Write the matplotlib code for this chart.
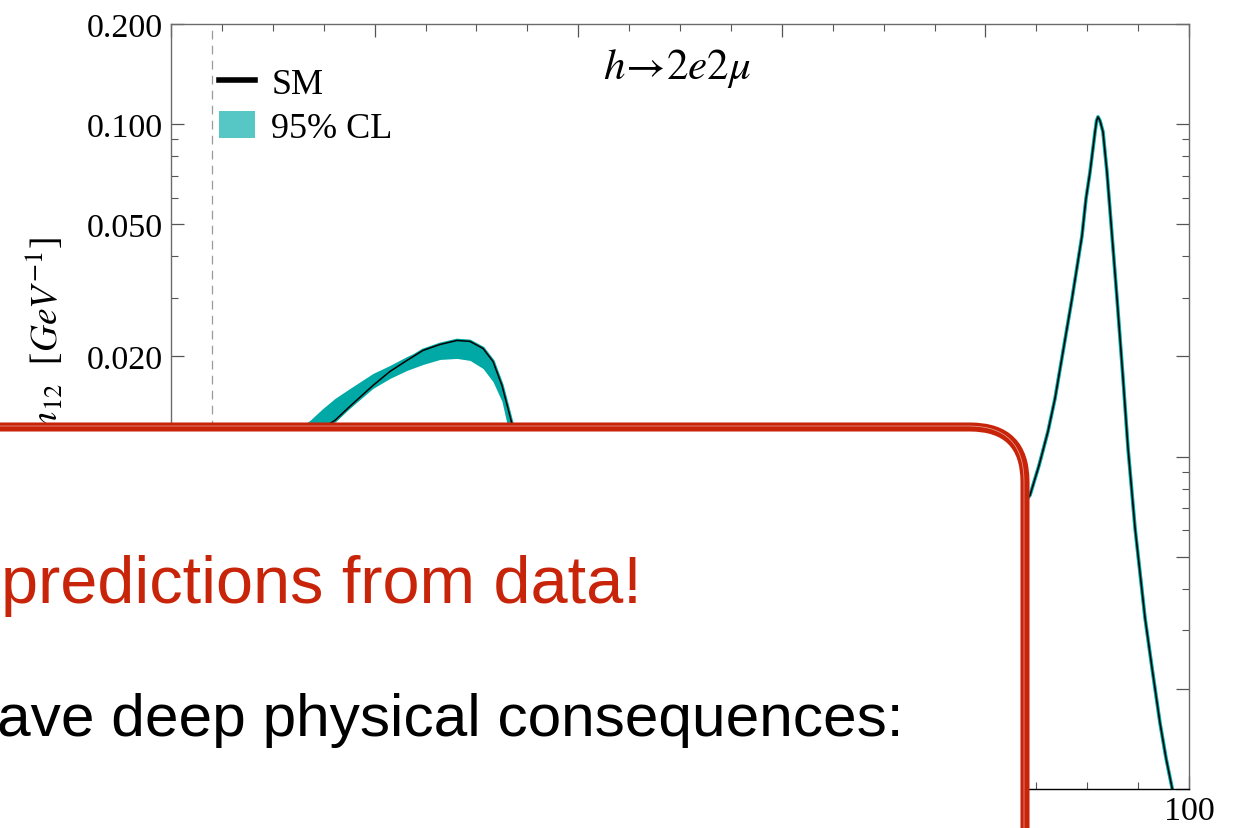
import numpy as np
import matplotlib
matplotlib.use("Agg")
import matplotlib.pyplot as plt
from matplotlib.patches import FancyBboxPatch, Patch
from matplotlib.lines import Line2D
from matplotlib.ticker import NullFormatter

plt.rcParams["font.family"] = "serif"
plt.rcParams["font.serif"] = ["Liberation Serif", "DejaVu Serif"]
plt.rcParams["mathtext.fontset"] = "stix"

# ── data ────────────────────────────────────────────────────────────────────
# SM differential width vs m12 [GeV]  (values below ~0.0124 sit under the box)
m12_sm = [4.0, 8.0, 12.0, 13.65, 14.93, 16.11, 17.58, 19.84, 21.51, 23.18, 24.75,
          26.42, 28.09, 29.37, 30.65, 31.63, 32.51, 33.10, 33.40, 34.0, 40.0,
          50.0, 60.0, 70.0, 80.0, 84.38, 85.27, 86.15, 86.84, 88.51, 89.49,
          89.88, 90.28, 90.77, 90.92, 91.06, 91.26, 91.55, 91.94, 92.44, 92.93,
          93.52, 94.01, 94.70, 95.68, 96.37, 97.15, 97.74, 98.33, 100.0]
sm = [0.0020, 0.0062, 0.0105, 0.0115, 0.0122, 0.01285, 0.01416, 0.01636, 0.01803,
      0.01946, 0.02085, 0.02173, 0.02234, 0.02220, 0.02114, 0.01932, 0.01636,
      0.01396, 0.01285, 0.0110, 0.0062, 0.0038, 0.0032, 0.0036, 0.0052, 0.00765,
      0.00941, 0.01191, 0.01496, 0.02986, 0.04618, 0.05962, 0.07188, 0.09476,
      0.1023, 0.1051, 0.1023, 0.09476, 0.07188, 0.04618, 0.02986, 0.01718,
      0.01059, 0.00609, 0.00327, 0.00231, 0.00158, 0.00124, 0.00101, 0.00062]

# 95% CL band on the low-mass lobe
m12_band = [12.0, 13.65, 14.93, 16.11, 17.58, 19.84, 21.51, 23.18, 24.75, 26.42,
            28.09, 29.37, 30.65, 31.63, 32.51, 33.10, 33.40, 34.0]
band_hi = [0.0118, 0.01285, 0.01396, 0.01496, 0.01603, 0.01778, 0.01880, 0.0200,
           0.02099, 0.02188, 0.02250, 0.02234, 0.02114, 0.01932, 0.01636, 0.01396,
           0.01285, 0.0112]
band_lo = [0.0100, 0.0113, 0.0120, 0.0127, 0.0140, 0.01603, 0.01718, 0.01816,
           0.01892, 0.01959, 0.01973, 0.01946, 0.01840, 0.0168, 0.01466, 0.0122,
           0.0115, 0.0100]

m12_cut = 4.0
y_major = [0.001, 0.002, 0.005, 0.01, 0.02, 0.05, 0.1, 0.2]
y_major_labels = ["0.001", "0.002", "0.005", "0.010", "0.020", "0.050", "0.100", "0.200"]
y_minor = [0.003, 0.004, 0.006, 0.007, 0.008, 0.009, 0.03, 0.04, 0.06, 0.07, 0.08, 0.09]
x_major = [0, 20, 40, 60, 80, 100]
x_minor = list(range(0, 101, 5))

TEAL = "#00a9a5"
TEAL_LIGHT = "#56c7c4"
RED = "#c8240a"

W, H = 1235, 829
fig = plt.figure(figsize=(W / 100, H / 100), dpi=100)
ax = fig.add_axes([171 / W, 39 / H, 1018 / W, 765 / H])

# ── plot ─────────────────────────────────────────────────────────────────────
ax.axvline(m12_cut, color="#9a9a9a", lw=0.9, dashes=(7, 5))
ax.fill_between(m12_band, band_lo, band_hi, color=TEAL, lw=0, zorder=2)
ax.plot(m12_sm, sm, color=TEAL, lw=2.6, zorder=2.5, solid_joinstyle="round")
ax.plot(m12_sm, sm, color="black", lw=1.1, zorder=3, solid_joinstyle="round")

ax.set_yscale("log")
ax.set_xlim(0, 100)
ax.set_ylim(0.001, 0.2)
ax.set_yticks(y_major)
ax.set_yticklabels(y_major_labels)
ax.set_yticks(y_minor, minor=True)
ax.yaxis.set_minor_formatter(NullFormatter())
ax.set_xticks(x_major)
ax.set_xticks(x_minor, minor=True)

ax.tick_params(which="both", direction="in", top=True, right=True, colors="#555555",
               labelcolor="black")
ax.tick_params(which="major", length=9.5, width=0.9, labelsize=24.5)
ax.tick_params(axis="y", which="major", pad=5.5)
ax.tick_params(axis="x", which="major", pad=4.5)
ax.tick_params(which="minor", length=5, width=0.8)
for s in ["left", "right", "top"]:
    ax.spines[s].set_color("#6b6b6b")
    ax.spines[s].set_linewidth(1.0)
ax.spines["bottom"].set_color("black")
ax.spines["bottom"].set_linewidth(1.0)

fig.text(58 / W, 1 - 237 / H, r"$d\Gamma/dm_{12}$  [$GeV^{-1}$]", rotation=90,
         rotation_mode="anchor", ha="right", va="baseline", fontsize=27)
fig.text(677 / W, 1 - 79 / H, r"$h\!\rightarrow\!2e2\mu$", ha="center",
         va="baseline", fontsize=31)

handles = [Line2D([], [], color="black", lw=4), Patch(facecolor=TEAL_LIGHT, lw=0)]
ax.legend(handles, ["SM", "95% CL"], loc="upper left", bbox_to_anchor=(0.0472, 0.944),
          frameon=False, fontsize=26, handlelength=1.0, handleheight=0.8,
          handletextpad=0.45, labelspacing=0.26, borderpad=0, borderaxespad=0)

# ── slide overlay: rounded red box with text ─────────────────────────────────
ov = fig.add_axes([0, 0, 1, 1], zorder=10)
ov.set_xlim(0, W)
ov.set_ylim(H, 0)
ov.axis("off")
ov.patch.set_alpha(0)

box = FancyBboxPatch((-80, 428), 1025 + 80, 700, boxstyle="round,pad=0,rounding_size=55",
                     facecolor="white", edgecolor=RED, lw=6.5)
ov.add_patch(box)
streak = FancyBboxPatch((-80, 427), 1025 + 80 - 1, 700, boxstyle="round,pad=0,rounding_size=55",
                        facecolor="none", edgecolor="white", lw=0.5, alpha=0.6)
ov.add_patch(streak)

ov.text(1, 603, "predictions from data!", color=RED, fontsize=48,
        family="Liberation Sans", ha="left", va="baseline")
ov.text(-3, 736, "ave deep physical consequences:", color="black", fontsize=43.5,
        family="Liberation Sans", ha="left", va="baseline")

fig.savefig("out.png", dpi=100)
